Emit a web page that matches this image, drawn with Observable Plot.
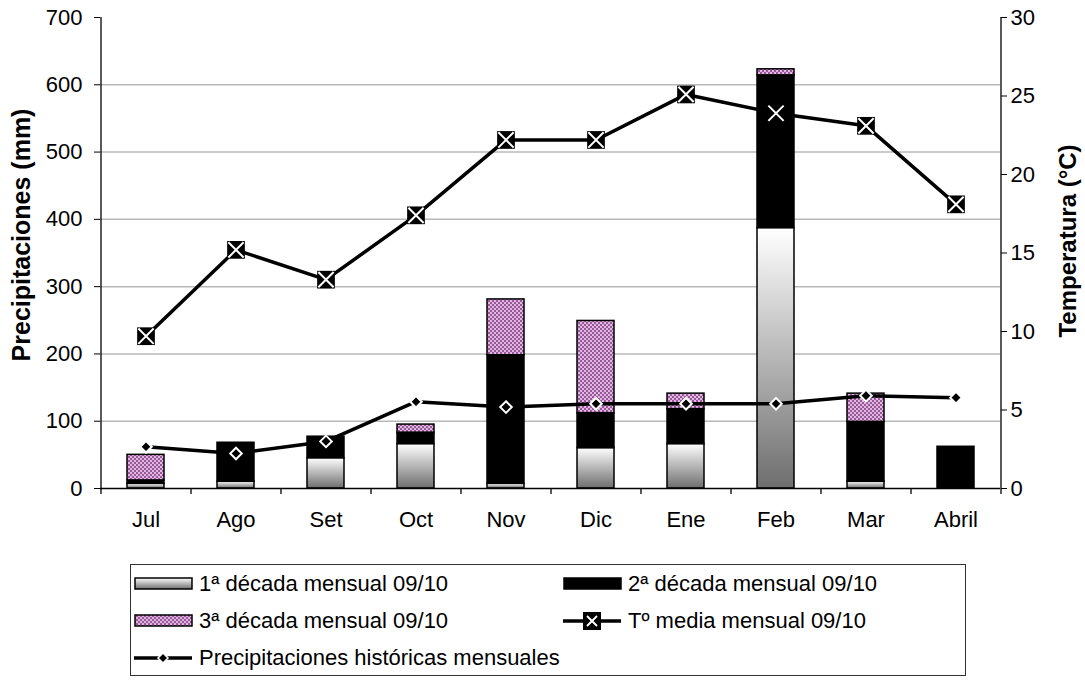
<!DOCTYPE html>
<html><head><meta charset="utf-8">
<script src="https://cdn.jsdelivr.net/npm/d3@7"></script>
<script src="https://cdn.jsdelivr.net/npm/@observablehq/plot@0.6"></script>
<style>
body{margin:0;background:#fff;font-family:"Liberation Sans",Arial,sans-serif;color:#000;}
#wrap{position:relative;width:1085px;height:680px;overflow:hidden;}
#chart{position:absolute;left:0;top:0;}
#legend{position:absolute;left:130px;top:564px;width:834px;height:110px;border:1px solid #333;box-sizing:content-box;}
.item{position:absolute;display:flex;align-items:center;font-size:22px;white-space:nowrap;height:30px;}
.item svg{margin-right:5px;}
</style></head><body>
<div id="wrap"><div id="chart"></div><div id="legend"></div></div>
<script>
const months = ["Jul","Ago","Set","Oct","Nov","Dic","Ene","Feb","Mar","Abril"];
const series = ["1ª década mensual 09/10","2ª década mensual 09/10","3ª década mensual 09/10"];
const decada1 = [7,10,45,66,7,60,66,387,10,0];
const decada2 = [5,58,32,17,191,52,52,227,89,62];
const decada3 = [38,0,0,12,83,137,23,9,42,0];
const historico = [62,52,70,129,121,126,126,126,138,135];
const temperatura = [9.7,15.2,13.3,17.4,22.2,22.2,25.1,23.9,23.1,18.1];
const leftTicks = [0,100,200,300,400,500,600,700];
const gridTicks = [100,200,300,400,500,600];
const rightTicks = [0,5,10,15,20,25,30];
const histLabel = "Precipitaciones históricas mensuales";
const tempLabel = "Tº media mensual 09/10";

const yMax = 700, tMax = 30;
const toY = t => t * yMax / tMax;

const rows = [];
months.forEach((m, i) => {
  [decada1[i], decada2[i], decada3[i]].forEach((v, k) => {
    if (v > 0) rows.push({month: m, serie: series[k], value: v});
  });
});
const histRows = months.map((m, i) => ({month: m, value: historico[i]}));
const tempRows = months.map((m, i) => ({month: m, temp: temperatura[i]}));

const defs = () => {
  const d = d3.create("svg:defs");
  const g = d.append("linearGradient").attr("id", "grad1").attr("x1", 0).attr("y1", 0).attr("x2", 0).attr("y2", 1);
  g.append("stop").attr("offset", "0%").attr("stop-color", "#ffffff");
  g.append("stop").attr("offset", "100%").attr("stop-color", "#6e6e6e");
  const p = d.append("pattern").attr("id", "pat3").attr("width", 4).attr("height", 4).attr("patternUnits", "userSpaceOnUse");
  p.append("rect").attr("width", 4).attr("height", 4).attr("fill", "#dcbadc");
  p.append("rect").attr("width", 2).attr("height", 2).attr("fill", "#9d559d");
  p.append("rect").attr("x", 2).attr("y", 2).attr("width", 2).attr("height", 2).attr("fill", "#9d559d");
  return d.node();
};

const chart = Plot.plot({
  width: 1085, height: 540,
  marginLeft: 100, marginRight: 85, marginTop: 17, marginBottom: 52,
  x: {domain: months, paddingInner: 0.59, paddingOuter: 0.295, axis: null},
  y: {domain: [0, yMax], axis: null},
  color: {domain: series, range: ["url(#grad1)", "#000000", "url(#pat3)"]},
  style: {fontFamily: "'Liberation Sans', Arial, sans-serif", fontSize: "22px", color: "#000", background: "#fff", overflow: "visible"},
  marks: [
    defs,
    Plot.ruleY(gridTicks, {stroke: "#b8b8b8", strokeWidth: 1.5}),
    Plot.barY(rows, {x: "month", y: "value", fill: "serie", stroke: "#000", strokeWidth: 1.5}),
    Plot.ruleY([0], {stroke: "#000", strokeWidth: 1.3}),
    Plot.ruleX([months[0]], {y1: 0, y2: yMax, dx: -45, stroke: "#000", strokeWidth: 1.3}),
    Plot.ruleX([months[months.length - 1]], {y1: 0, y2: yMax, dx: 45, stroke: "#000", strokeWidth: 1.3}),
    Plot.ruleX(months, {y1: 0, y2: 0, dx: -45, insetBottom: -6, stroke: "#000", strokeWidth: 1.3}),
    Plot.ruleX([months[months.length - 1]], {y1: 0, y2: 0, dx: 45, insetBottom: -6, stroke: "#000", strokeWidth: 1.3}),
    Plot.axisX({tickSize: 0, tickPadding: 23, label: null, fontSize: 22}),
    Plot.axisY(leftTicks, {anchor: "left", tickSize: 6, tickPadding: 12, label: null, fontSize: 22}),
    Plot.axisY(rightTicks.map(toY), {anchor: "right", tickSize: 6, tickPadding: 4, label: null, fontSize: 22, tickFormat: d => String(Math.round(d * tMax / yMax))}),
    Plot.text(["Precipitaciones (mm)"], {frameAnchor: "left", textAnchor: "middle", dx: -79, dy: -18, rotate: -90, fontWeight: "bold", fontSize: 25}),
    Plot.text(["Temperatura (°C)"], {frameAnchor: "right", textAnchor: "middle", dx: 68, dy: -12, rotate: -90, fontWeight: "bold", fontSize: 24}),
    Plot.line(histRows, {x: "month", y: "value", stroke: "#000", strokeWidth: 3.5}),
    Plot.dot(histRows, {x: "month", y: "value", symbol: "diamond2", r: 5.2, fill: "#000", stroke: "#fff", strokeWidth: 2}),
    Plot.line(tempRows, {x: "month", y: d => toY(d.temp), stroke: "#000", strokeWidth: 3.5}),
    Plot.dot(tempRows, {x: "month", y: d => toY(d.temp), symbol: "square", r: 10, fill: "#000", stroke: "none"}),
    Plot.dot(tempRows, {x: "month", y: d => toY(d.temp), symbol: "times", r: 7, stroke: "#fff", strokeWidth: 2})
  ]
});
document.getElementById("chart").appendChild(chart);

// Legend
const legend = d3.select("#legend");
const items = [
  {label: series[0], kind: "bar", fill: "url(#grad1)", col: 0, row: 0},
  {label: series[1], kind: "bar", fill: "#000", col: 1, row: 0},
  {label: series[2], kind: "bar", fill: "url(#pat3)", col: 0, row: 1},
  {label: tempLabel, kind: "temp", col: 1, row: 1},
  {label: histLabel, kind: "hist", col: 0, row: 2}
];
const colX = [3, 432];
items.forEach(it => {
  const div = legend.append("div").attr("class", "item")
    .style("left", colX[it.col] + "px").style("top", (4 + it.row * 37) + "px");
  const s = div.append("svg").attr("width", 60).attr("height", 24);
  if (it.kind === "bar") {
    s.append("rect").attr("x", 1).attr("y", 6).attr("width", 57).attr("height", 11)
      .attr("fill", it.fill).attr("stroke", "#000").attr("stroke-width", 1.5);
  } else if (it.kind === "temp") {
    s.append("line").attr("x1", 0).attr("x2", 58).attr("y1", 12).attr("y2", 12).attr("stroke", "#000").attr("stroke-width", 3.5);
    s.append("rect").attr("x", 20).attr("y", 3).attr("width", 18).attr("height", 18).attr("fill", "#000");
    s.append("path").attr("d", "M24,7L34,17M34,7L24,17").attr("stroke", "#fff").attr("stroke-width", 2);
  } else {
    s.append("line").attr("x1", 0).attr("x2", 58).attr("y1", 12).attr("y2", 12).attr("stroke", "#000").attr("stroke-width", 3.5);
    s.append("path").attr("d", "M29,7L34,12L29,17L24,12Z").attr("fill", "#000").attr("stroke", "#fff").attr("stroke-width", 1.5);
  }
  div.append("span").text(it.label);
});
</script>
</body></html>
